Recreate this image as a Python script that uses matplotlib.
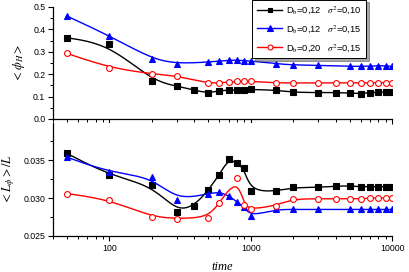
import numpy as np
import matplotlib
matplotlib.use("Agg")
import matplotlib.pyplot as plt
from matplotlib.ticker import LogLocator, MultipleLocator, NullFormatter, FormatStrFormatter

plt.rcParams['font.family'] = ['Liberation Sans', 'DejaVu Sans']
plt.rcParams['mathtext.fontset'] = 'stix'

# times (x values)
t_all = [50, 100, 200, 300, 400, 500, 600, 700, 800, 900, 1000, 1500, 2000,
         3000, 4000, 5000, 6000, 7000, 8000, 9000, 10000]
t_blue = [50, 100, 200, 300, 500, 600, 700, 800, 900, 1000, 1500, 2000,
          3000, 5000, 6000, 7000, 8000, 9000, 10000]
t_red_top = [50, 100, 200, 300, 500, 600, 700, 800, 900, 1000, 1500, 2000,
             3000, 4000, 5000, 6000, 7000, 8000, 9000, 10000]
t_red_bot = [50, 100, 200, 300, 500, 600, 800, 900, 1000, 1500, 2000,
             3000, 4000, 5000, 6000, 7000, 8000, 9000, 10000]

# <phi_H>
phi_black = [0.363, 0.333, 0.171, 0.147, 0.128, 0.116, 0.126, 0.129, 0.129, 0.130, 0.132,
             0.129, 0.119, 0.118, 0.118, 0.116, 0.113, 0.118, 0.119, 0.122, 0.122]
phi_blue = [0.460, 0.372, 0.268, 0.247, 0.254, 0.259, 0.262, 0.263, 0.260, 0.259,
            0.247, 0.241, 0.240, 0.235, 0.235, 0.236, 0.238, 0.237, 0.235]
phi_red = [0.293, 0.229, 0.201, 0.193, 0.159, 0.162, 0.165, 0.168, 0.168, 0.168,
           0.161, 0.161, 0.161, 0.161, 0.161, 0.161, 0.162, 0.162, 0.162, 0.162]

# <L_phi>/L
L_black = [0.0359, 0.0330, 0.0317, 0.0282, 0.0290, 0.0310, 0.0331, 0.0352, 0.0346, 0.0339,
           0.0309, 0.0309, 0.0314, 0.0314, 0.0316, 0.0316, 0.0315, 0.0315, 0.0315, 0.0315, 0.0315]
L_blue = [0.0354, 0.0334, 0.0328, 0.0297, 0.0306, 0.0308, 0.0303, 0.0295, 0.0288, 0.0276,
          0.0285, 0.0285, 0.0285, 0.0285, 0.0285, 0.0285, 0.0285, 0.0285, 0.0285]
L_red = [0.0306, 0.0298, 0.0275, 0.0273, 0.0274, 0.0294, 0.0326, 0.0291, 0.0285,
         0.0290, 0.0299, 0.0299, 0.0299, 0.0299, 0.0299, 0.0300, 0.0300, 0.0300, 0.0300]

labels = [r'D$_\mathrm{b}$=0,12   $\sigma^2$=0,10',
          r'D$_\mathrm{b}$=0,12   $\sigma^2$=0,15',
          r'D$_\mathrm{b}$=0,20   $\sigma^2$=0,15']


def bspline(x, y, n=30):
    # cubic B-spline with the data points as control points (log-x space)
    p = np.column_stack([np.log10(x), y])
    p = np.vstack([p[0], p[0], p, p[-1], p[-1]])
    u = np.linspace(0, 1, n)
    b0 = (1 - u) ** 3 / 6
    b1 = (3 * u ** 3 - 6 * u ** 2 + 4) / 6
    b2 = (-3 * u ** 3 + 3 * u ** 2 + 3 * u + 1) / 6
    b3 = u ** 3 / 6
    out = []
    for i in range(len(p) - 3):
        seg = (np.outer(b0, p[i]) + np.outer(b1, p[i + 1]) +
               np.outer(b2, p[i + 2]) + np.outer(b3, p[i + 3]))
        out.append(seg)
    out = np.vstack(out)
    return 10 ** out[:, 0], out[:, 1]


fig = plt.figure(figsize=(4.09, 2.72), dpi=100)
ax1 = fig.add_axes([0.1296, 0.5625, 0.829, 0.4118])
ax2 = fig.add_axes([0.1296, 0.1324, 0.829, 0.4154])

styles = [dict(color='black', marker='s', mfc='black', ms=3.8),
          dict(color='#0000ff', marker='^', mfc='#0000ff', ms=4.5),
          dict(color='#ff0000', marker='o', mfc='white', ms=4.2)]

top_sets = [(t_all, phi_black), (t_blue, phi_blue), (t_red_top, phi_red)]
bot_sets = [(t_all, L_black), (t_blue, L_blue), (t_red_bot, L_red)]

for ax, sets in [(ax1, top_sets), (ax2, bot_sets)]:
    for (tx, ty), st, lab in zip(sets, styles, labels):
        cx, cy = bspline(tx, ty)
        ax.plot(cx, cy, color=st['color'], lw=1.0)
        ax.plot(tx, ty, ls='none', marker=st['marker'], color=st['color'],
                mfc=st['mfc'], mec=st['color'], ms=st['ms'], mew=0.8)
        if ax is ax1:
            ax.plot([], [], color=st['color'], lw=1.0, marker=st['marker'],
                    mfc=st['mfc'], mec=st['color'], ms=st['ms'] * 0.85, mew=0.8, label=lab)

for ax in (ax1, ax2):
    ax.set_xscale('log')
    ax.set_xlim(40, 10000)
    for s in ('top', 'right'):
        ax.spines[s].set_visible(False)
    ax.spines['left'].set_linewidth(0.9)
    ax.spines['bottom'].set_linewidth(0.9)
    ax.xaxis.set_minor_locator(LogLocator(base=10, subs=np.arange(2, 10)))
    ax.xaxis.set_minor_formatter(NullFormatter())
    ax.tick_params(which='major', direction='out', length=3.5, width=0.8, labelsize=6.3, pad=2)
    ax.tick_params(which='minor', direction='out', length=2, width=0.7)

ax1.set_ylim(0, 0.5)
ax1.yaxis.set_major_locator(MultipleLocator(0.1))
ax1.yaxis.set_minor_locator(MultipleLocator(0.05))
ax1.yaxis.set_major_formatter(FormatStrFormatter('%.1f'))
ax1.tick_params(axis='x', labelbottom=False)

ax2.set_ylim(0.025, 0.0399)
ax2.yaxis.set_major_locator(MultipleLocator(0.005))
ax2.yaxis.set_minor_locator(MultipleLocator(0.0025))
ax2.yaxis.set_major_formatter(FormatStrFormatter('%.3f'))
ax2.set_xticks([100, 1000, 10000])
ax2.set_xticklabels(['100', '1000', '10000'])

ax1.set_ylabel(r'$<\phi_H>$', fontsize=9, labelpad=4.5)
ax2.set_ylabel(r'$<L_\phi>/L$', fontsize=9, labelpad=4.5)
ax2.set_xlabel('time', fontsize=9, family='Liberation Serif', style='italic', labelpad=6)
fig.align_ylabels([ax1, ax2])

leg = ax1.legend(loc='upper right', bbox_to_anchor=(0.923, 1.065), fontsize=6.7,
                 frameon=True, fancybox=False, shadow=True, handlelength=2.7,
                 borderpad=0.5, labelspacing=0.75, handletextpad=0.4, borderaxespad=0)
leg.get_frame().set_edgecolor('black')
leg.get_frame().set_linewidth(0.7)

fig.savefig('out.png', dpi=100)
